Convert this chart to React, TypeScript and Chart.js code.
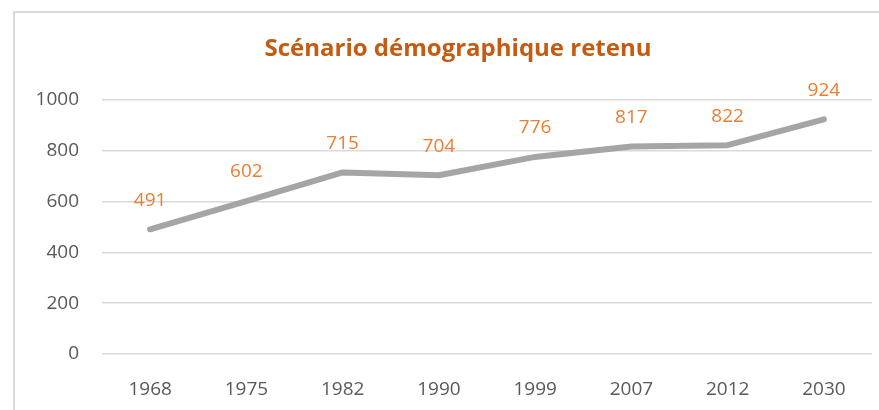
import React, { useEffect, useRef } from "react";
import { Chart, registerables } from "chart.js";

Chart.register(...registerables);

const categories = ["1968", "1975", "1982", "1990", "1999", "2007", "2012", "2030"];
const population = [491, 602, 715, 704, 776, 817, 822, 924];
const yTicks = [0, 200, 400, 600, 800, 1000];
const titleText = "Scénario démographique retenu";

const FONT = "'Open Sans', 'DejaVu Sans', sans-serif";

const labelPlugin = {
  id: "pointLabels",
  afterDatasetsDraw(chart: any) {
    const ctx = chart.ctx;
    const meta = chart.getDatasetMeta(0);
    const data = chart.data.datasets[0].data as number[];
    ctx.save();
    ctx.font = `19px ${FONT}`;
    ctx.fillStyle = "#ED7D31";
    ctx.textAlign = "center";
    ctx.textBaseline = "middle";
    meta.data.forEach((pt: any, i: number) => {
      ctx.fillText(String(data[i]), pt.x, pt.y - 29);
    });
    ctx.restore();
  },
};

const titlePlugin = {
  id: "boxTitle",
  afterDraw(chart: any) {
    const ctx = chart.ctx;
    ctx.save();
    ctx.font = `bold 24px ${FONT}`;
    ctx.fillStyle = "#C55A11";
    ctx.textAlign = "center";
    ctx.textBaseline = "middle";
    ctx.fillText(titleText, 458, 49);
    ctx.restore();
  },
};

export default function App() {
  const ref = useRef<HTMLCanvasElement | null>(null);
  useEffect(() => {
    if (!ref.current) return;
    const chart = new Chart(ref.current, {
      type: "line",
      data: {
        labels: categories,
        datasets: [
          {
            data: population,
            borderColor: "#A5A5A5",
            borderWidth: 6,
            borderCapStyle: "round",
            borderJoinStyle: "round",
            pointRadius: 0,
            tension: 0,
            fill: false,
          },
        ],
      },
      options: {
        animation: false,
        responsive: false,
        maintainAspectRatio: false,
        layout: { padding: { left: 0, right: 7, top: 100, bottom: 0 } },
        plugins: {
          legend: { display: false },
          tooltip: { enabled: false },
          title: { display: false },
        },
        scales: {
          x: {
            offset: true,
            grid: { display: false },
            border: { display: false },
            ticks: { color: "#595959", font: { family: FONT, size: 19 }, padding: 16, maxRotation: 0 },
            afterFit: (s: any) => { s.height = 56; },
          },
          y: {
            min: 0,
            max: 1000,
            afterBuildTicks: (s: any) => { s.ticks = yTicks.map((v) => ({ value: v })); },
            grid: { color: "#D9D9D9", lineWidth: 1.5, drawTicks: false },
            border: { display: false },
            ticks: {
              color: "#595959",
              font: { family: FONT, size: 19 },
              padding: 23,
              callback: (v: any) => String(v),
            },
            afterFit: (s: any) => { s.width = 102; },
          },
        },
      },
      plugins: [labelPlugin, titlePlugin],
    });
    return () => chart.destroy();
  }, []);

  return (
    <div style={{ position: "absolute", left: 0, top: 0, width: 879, height: 410, overflow: "hidden", background: "#fff" }}>
      <div style={{ position: "absolute", left: 13, top: 11, width: 900, height: 450, border: "2px solid #D9D9D9" }} />
      <canvas ref={ref} width={879} height={410} style={{ position: "absolute", left: 0, top: 0 }} />
    </div>
  );
}
